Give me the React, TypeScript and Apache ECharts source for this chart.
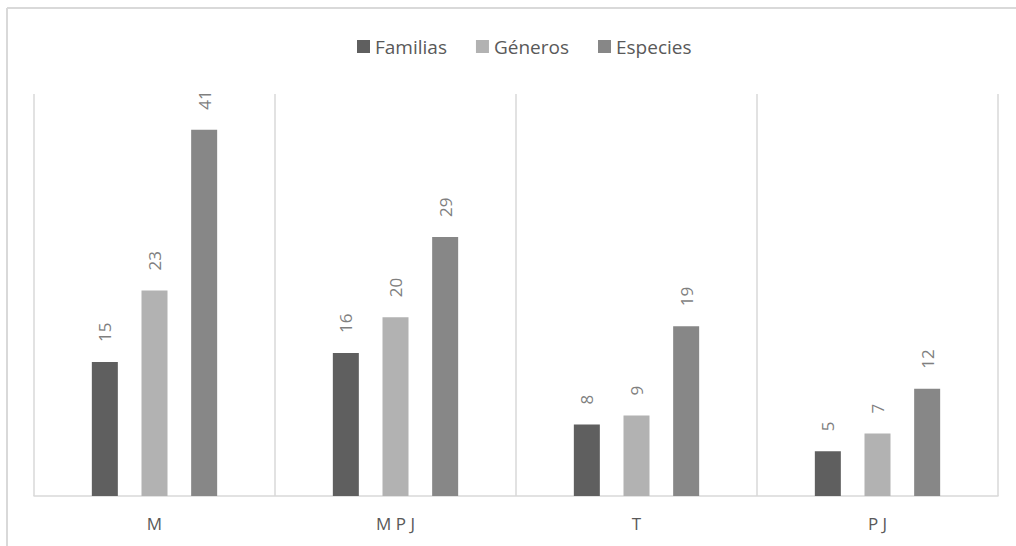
import React, { useEffect, useRef } from "react";
import * as echarts from "echarts";

const categories = ["M", "M P J", "T", "P J"];
const familias = [15, 16, 8, 5];
const generos = [23, 20, 9, 7];
const especies = [41, 29, 19, 12];
const seriesNames = ["Familias", "Géneros", "Especies"];

const FONT = "'Open Sans', Lato, sans-serif";

export default function App() {
  const ref = useRef<HTMLDivElement>(null);

  useEffect(() => {
    if (!ref.current) return;
    const chart = echarts.init(ref.current, undefined, { renderer: "svg" });

    const label = {
      show: true,
      position: "top" as const,
      rotate: 90,
      align: "left" as const,
      verticalAlign: "middle" as const,
      distance: 20,
      color: "#7f7f7f",
      fontSize: 17,
      fontFamily: FONT,
    };

    const mkSeries = (name: string, data: number[], color: string) => ({
      name,
      type: "bar" as const,
      data,
      barWidth: 26,
      barGap: "91%",
      itemStyle: { color },
      label,
    });

    chart.setOption({
      animation: false,
      backgroundColor: "#ffffff",
      textStyle: { fontFamily: FONT },
      legend: {
        data: seriesNames,
        top: 32,
        left: 352,
        itemWidth: 13,
        itemHeight: 13,
        itemGap: 29,
        icon: "rect",
        textStyle: { color: "#595959", fontSize: 19, fontFamily: FONT },
      },
      grid: { left: 34, right: 18, top: 94, bottom: 50 },
      xAxis: {
        type: "category",
        data: categories,
        axisTick: { show: false },
        axisLine: { show: true, lineStyle: { color: "#d9d9d9", width: 1.5 } },
        axisLabel: { color: "#595959", fontSize: 17, fontFamily: FONT, margin: 19 },
        splitLine: { show: true, interval: 0, lineStyle: { color: "#d9d9d9", width: 1.5 } },
      },
      yAxis: {
        type: "value",
        min: 0,
        max: 45,
        show: false,
        splitLine: { show: false },
      },
      graphic: [
        {
          type: "line",
          shape: { x1: 7, y1: 8, x2: 1016, y2: 8 },
          style: { stroke: "#d9d9d9", lineWidth: 2 },
          silent: true,
        },
        {
          type: "line",
          shape: { x1: 7, y1: 8, x2: 7, y2: 546 },
          style: { stroke: "#d9d9d9", lineWidth: 2 },
          silent: true,
        },
      ],
      series: [
        mkSeries(seriesNames[0], familias, "#5f5f5f"),
        mkSeries(seriesNames[1], generos, "#b2b2b2"),
        mkSeries(seriesNames[2], especies, "#878787"),
      ],
    });

    return () => chart.dispose();
  }, []);

  return (
    <div
      ref={ref}
      style={{ position: "fixed", left: 0, top: 0, width: 1016, height: 546, background: "#fff" }}
    />
  );
}
